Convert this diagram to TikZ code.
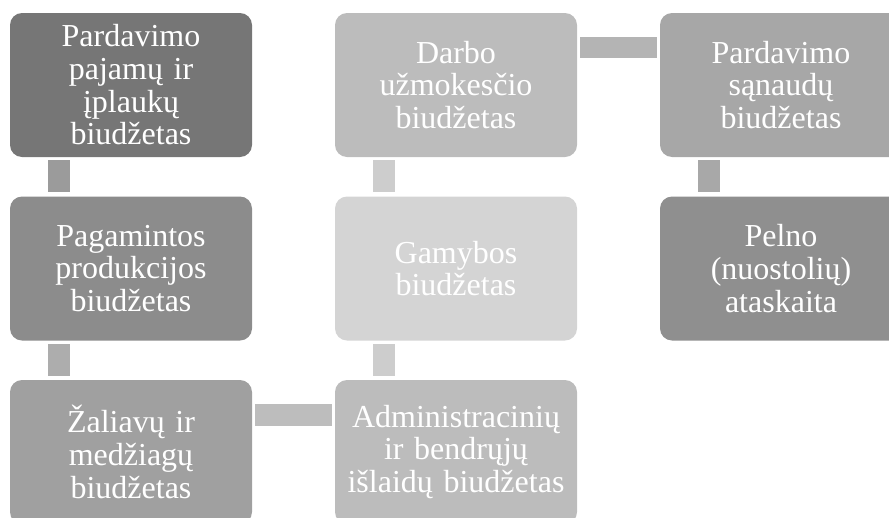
\documentclass[tikz,border=0pt]{standalone}
\usepackage{fontspec}
\setmainfont{Liberation Serif}
\usetikzlibrary{calc}
\definecolor{cA}{HTML}{767676}
\definecolor{cB}{HTML}{8C8C8C}
\definecolor{cC}{HTML}{A0A0A0}
\definecolor{cD}{HTML}{BCBCBC}
\definecolor{cE}{HTML}{D4D4D4}
\definecolor{cF}{HTML}{BCBCBC}
\definecolor{cG}{HTML}{A7A7A7}
\definecolor{cH}{HTML}{8F8F8F}
\definecolor{kA}{HTML}{9B9B9B}
\definecolor{kB}{HTML}{ADADAD}
\definecolor{kC}{HTML}{BDBDBD}
\definecolor{kD}{HTML}{CDCDCD}
\definecolor{kE}{HTML}{B4B4B4}
\definecolor{kF}{HTML}{A8A8A8}
\tikzset{
  box/.style={rounded corners=12pt, minimum width=242pt, minimum height=144pt,
    inner sep=0pt, text width=240pt, align=center, text=white,
    font=\fontsize{32}{32.7}\selectfont},
}
\begin{document}
\begin{tikzpicture}[x=1pt,y=-1pt]
\useasboundingbox (0,0) rectangle (889,517);
\clip (0,0) rectangle (889,517);
\node[box, fill=cA] (b1) at (131,85) {Pardavimo\\pajamų ir\\įplaukų\\biudžetas};
\node[box, fill=cB] (b2) at (131,268.5) {Pagamintos\\produkcijos\\biudžetas};
\node[box, fill=cC] (b3) at (131,452) {Žaliavų ir\\medžiagų\\biudžetas};
\node[box, fill=cD] (b4) at (456,85) {Darbo\\užmokesčio\\biudžetas};
\node[box, fill=cE] (b5) at (456,268.5) {Gamybos\\biudžetas};
\node[box, fill=cF] (b6) at (456,452) {Administracinių\\ir bendrųjų\\išlaidų biudžetas};
\node[box, fill=cG] (b7) at (781,85) {Pardavimo\\sąnaudų\\biudžetas};
\node[box, fill=cH] (b8) at (781,268.5) {Pelno\\(nuostolių)\\ataskaita};
% connectors
\fill[kA] ($(b1.south west)+(38,3)$) rectangle ($(b2.north west)+(60,-4)$);
\fill[kB] ($(b2.south west)+(38,3)$) rectangle ($(b3.north west)+(60,-4)$);
\fill[kC] ($(b3.north east)+(3,24)$) rectangle ($(b6.north west)+(-3,46)$);
\fill[kD] ($(b6.north west)+(38,-4)$) rectangle ($(b5.south west)+(60,3)$);
\fill[kD] ($(b5.north west)+(38,-4)$) rectangle ($(b4.south west)+(60,3)$);
\fill[kE] ($(b4.north east)+(3,24)$) rectangle ($(b7.north west)+(-3,45)$);
\fill[kF] ($(b7.south west)+(38,3)$) rectangle ($(b8.north west)+(60,-4)$);
\end{tikzpicture}
\end{document}
